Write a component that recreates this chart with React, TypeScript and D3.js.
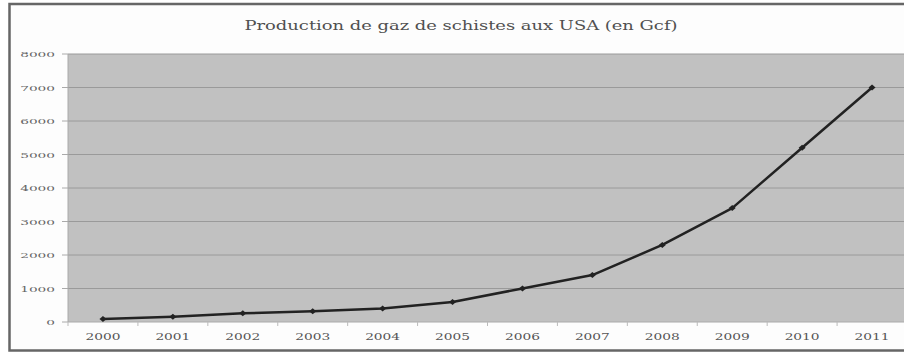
import React from "react";
import * as d3 from "d3";

const years = ["2000","2001","2002","2003","2004","2005","2006","2007","2008","2009","2010","2011"];
const production = [90, 160, 260, 320, 400, 600, 1000, 1400, 2300, 3400, 5200, 7000];
const yTicks = [0, 1000, 2000, 3000, 4000, 5000, 6000, 7000, 8000];
const title = "Production de gaz de schistes aux USA (en Gcf)";

export default function App() {
  const W = 904, H = 354;
  const left = 68, right = 907, top = 54, bottom = 322;
  const x = d3.scaleBand<string>().domain(years).range([left, right]).paddingInner(0).paddingOuter(0);
  const y = d3.scaleLinear().domain([0, 8000]).range([bottom, top]);
  const line = d3.line<number>()
    .x((_, i) => (x(years[i]) as number) + x.bandwidth() / 2)
    .y((d) => y(d));
  const font = "'DejaVu Serif', serif";
  return (
    <svg width={W} height={H} style={{ position: "absolute", left: 0, top: 0, background: "#fff" }}>
      <rect x={0} y={0} width={W} height={H} fill="#fff" />
      <rect x={9.5} y={4} width={W + 20} height={346.5} fill="#fdfdfd" stroke="#666" strokeWidth={2.5} />
      <text x={461} y={30} textAnchor="middle" fontSize={13} fill="#505050"
        textLength={433} lengthAdjust="spacingAndGlyphs" style={{ fontFamily: font }}>{title}</text>
      <rect x={left} y={top} width={right - left} height={bottom - top} fill="#c1c1c1" />
      {yTicks.map((t) => (
        <g key={t}>
          {t > 0 && <line x1={left} x2={W} y1={y(t)} y2={y(t)} stroke="#9a9a9a" strokeWidth={1} />}
          <line x1={left - 6} x2={left} y1={y(t)} y2={y(t)} stroke="#aaa" strokeWidth={1} />
          <text x={55} y={y(t) + 3} textAnchor="end" fontSize={8} fill="#666"
            textLength={String(t).length * 8.7} lengthAdjust="spacingAndGlyphs" style={{ fontFamily: font }}>{t}</text>
        </g>
      ))}
      <line x1={left} x2={left} y1={top} y2={bottom} stroke="#aaa" strokeWidth={1} />
      <line x1={left} x2={W} y1={bottom} y2={bottom} stroke="#aaa" strokeWidth={1} />
      {years.map((yr) => (
        <g key={yr}>
          <line x1={(x(yr) as number)} x2={(x(yr) as number)} y1={bottom} y2={bottom + 4} stroke="#bbb" strokeWidth={1} />
          <text x={(x(yr) as number) + x.bandwidth() / 2} y={340} textAnchor="middle"
            fontSize={9.5} fill="#555" textLength={35} lengthAdjust="spacingAndGlyphs" style={{ fontFamily: font }}>{yr}</text>
        </g>
      ))}
      <path d={line(production) || ""} fill="none" stroke="#222" strokeWidth={2.5} strokeLinejoin="round" />
      {production.map((v, i) => {
        const cx = (x(years[i]) as number) + x.bandwidth() / 2;
        const cy = y(v);
        return (
          <path key={i} d={`M${cx - 3.5},${cy} L${cx},${cy - 3} L${cx + 3.5},${cy} L${cx},${cy + 3} Z`} fill="#222" />
        );
      })}
    </svg>
  );
}
